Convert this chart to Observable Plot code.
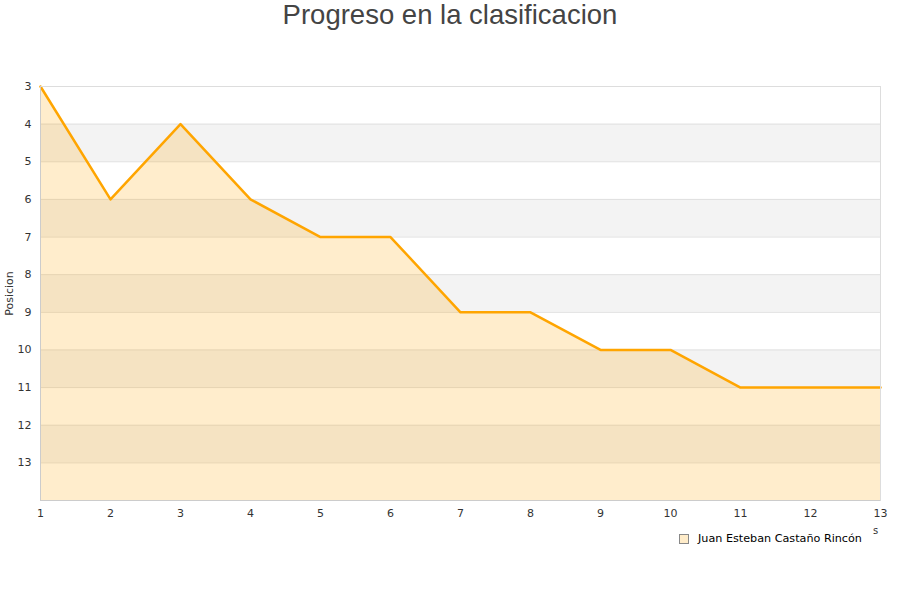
<!DOCTYPE html>
<html>
<head>
<meta charset="utf-8">
<script src="https://cdn.jsdelivr.net/npm/d3@7"></script>
<script src="https://cdn.jsdelivr.net/npm/@observablehq/plot@0.6"></script>
<style>
  body { margin: 0; background: #fff; font-family: "DejaVu Sans", sans-serif; }
  #wrap { position: relative; width: 900px; height: 600px; }
  #title { height: 30px; line-height: 30px; text-align: center; font-family: "Liberation Sans", Arial, sans-serif; font-size: 27.5px; color: #444; }
  #legend { position: absolute; left: 679px; top: 532px; font-size: 11.2px; color: #000; display: flex; align-items: center; }
  #legend .sw { width: 8px; height: 8px; background: #ffecc9; border: 1px solid #888; margin-right: 9px; }
  #xlab { position: absolute; left: 873px; top: 525px; font-size: 10px; color: #333; }
</style>
</head>
<body>
<div id="wrap">
  <div id="title">Progreso en la clasificacion</div>
  <div id="chart"></div>
  <div id="legend"><div class="sw"></div><span>Juan Esteban Castaño Rincón</span></div>
  <div id="xlab">s</div>
</div>
<script>
const jornadas = [1, 2, 3, 4, 5, 6, 7, 8, 9, 10, 11, 12, 13]
const posiciones = [3, 6, 4, 6, 7, 7, 9, 9, 10, 10, 11, 11, 11]
const yTicks = [3, 4, 5, 6, 7, 8, 9, 10, 11, 12, 13]
const bandas = [4, 6, 8, 10, 12]
const yMin = 3
const yMax = 14
const xMin = jornadas[0]
const xMax = jornadas[jornadas.length - 1]

const data = jornadas.map((j, i) => ({jornada: j, pos: posiciones[i]}))

let chart = Plot.plot({
  width: 900,
  height: 520,
  marginTop: 56,
  marginBottom: 50,
  marginLeft: 40,
  marginRight: 20,
  style: {
    fontFamily: "DejaVu Sans, sans-serif",
    fontSize: "11px",
    color: "#333",
    background: "#fff"
  },
  x: {domain: [xMin, xMax], ticks: jornadas, tickSize: 0, tickPadding: 9, label: null},
  y: {domain: [yMin, yMax], reverse: true, ticks: yTicks, tickSize: 0, tickPadding: 9,
      label: "Posicion", labelAnchor: "center", labelArrow: "none", labelOffset: 35},
  marks: [
    Plot.rect(bandas, {x1: () => xMin, x2: () => xMax, y1: d => d, y2: d => d + 1, fill: "#f3f3f3"}),
    Plot.ruleY(yTicks.slice(1), {stroke: "#e0e0e0"}),
    Plot.areaY(data, {x: "jornada", y1: "pos", y2: () => yMax, fill: "#ffa500", fillOpacity: 0.2}),
    Plot.line(data, {x: "jornada", y: "pos", stroke: "#ffa500", strokeWidth: 2.5}),
    Plot.frame({stroke: "#ddd"}),
    Plot.ruleX([xMin], {stroke: "#ccc"}),
    Plot.ruleY([yMax], {stroke: "#ccc"})
  ]
})
d3.select('#chart').append(() => chart)
</script>
</body>
</html>
